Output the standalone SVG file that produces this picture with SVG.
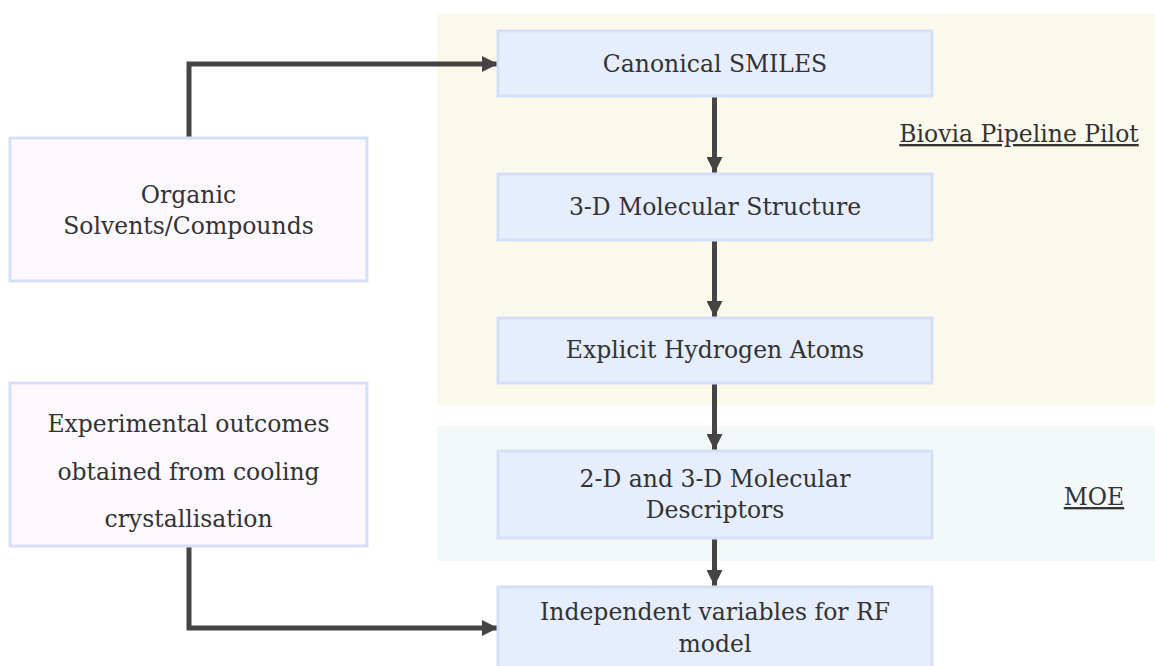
<svg xmlns="http://www.w3.org/2000/svg" width="1155" height="666" viewBox="0 0 1155 666">
<style>
.cl{stroke:none}
.n{fill:#e6eefd;stroke:#d5dff8;stroke-width:3}
.p{fill:#fcf8fe;stroke:#d5dff8;stroke-width:3}
text{font-family:"DejaVu Serif","Liberation Serif",serif;font-size:23.5px;fill:#333;text-anchor:middle}
.lbl{text-decoration:underline}
.e{fill:none;stroke:#444;stroke-width:5}
</style>
<defs>
<marker id="ah" viewBox="0 0 16 16" refX="16" refY="8" markerWidth="16" markerHeight="16" markerUnits="userSpaceOnUse" orient="auto">
<path d="M0,0 L16,8 L0,16 z" fill="#444"/>
</marker>
</defs>
<rect width="1155" height="666" fill="#ffffff"/>
<g id="cluster-biovia">
<rect class="cl" x="437" y="13" width="718" height="392" fill="#fbf9eb"/>
<text class="lbl" x="1019" y="142">Biovia Pipeline Pilot</text>
</g>
<g id="cluster-moe">
<rect class="cl" x="437" y="426" width="718" height="135" fill="#f3f8f8"/>
<text class="lbl" x="1094" y="505">MOE</text>
</g>
<g id="connectors">
<path class="e" d="M189,137 V64 H498" marker-end="url(#ah)"/>
<path class="e" d="M189,547 V628 H498" marker-end="url(#ah)"/>
<path class="e" d="M714.5,97 V173" marker-end="url(#ah)"/>
<path class="e" d="M714.5,241 V317" marker-end="url(#ah)"/>
<path class="e" d="M714.5,384 V450" marker-end="url(#ah)"/>
<path class="e" d="M714.5,539 V586" marker-end="url(#ah)"/>
</g>
<g id="node-smiles">
<rect class="n" x="498" y="31" width="434" height="65"/>
<text x="715" y="72">Canonical SMILES</text>
</g>
<g id="node-3d">
<rect class="n" x="498" y="174" width="434" height="66"/>
<text x="715" y="215">3-D Molecular Structure</text>
</g>
<g id="node-hydrogen">
<rect class="n" x="498" y="318" width="434" height="65"/>
<text x="715" y="358">Explicit Hydrogen Atoms</text>
</g>
<g id="node-descriptors">
<rect class="n" x="498" y="451" width="434" height="87"/>
<text x="715" y="487">2-D and 3-D Molecular</text>
<text x="715" y="518">Descriptors</text>
</g>
<g id="node-independent">
<rect class="n" x="498" y="587" width="434" height="90"/>
<text x="715" y="620">Independent variables for RF</text>
<text x="715" y="652">model</text>
</g>
<g id="node-organic">
<rect class="p" x="10" y="138" width="357" height="143"/>
<text x="188.5" y="203">Organic</text>
<text x="188.5" y="234">Solvents/Compounds</text>
</g>
<g id="node-experimental">
<rect class="p" x="10" y="383" width="357" height="163"/>
<text x="188.5" y="432">Experimental outcomes</text>
<text x="188.5" y="480">obtained from cooling</text>
<text x="188.5" y="527">crystallisation</text>
</g>
</svg>
